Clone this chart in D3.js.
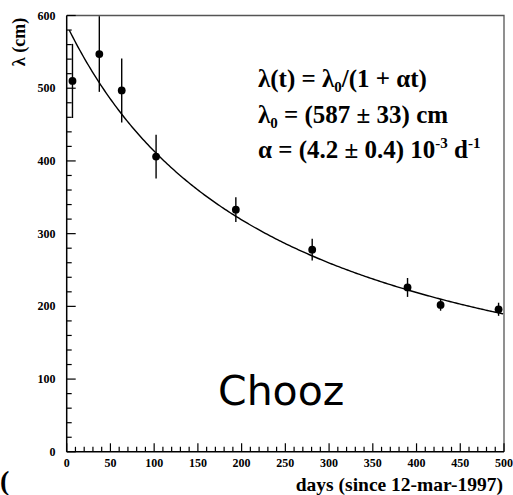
<!DOCTYPE html>
<meta charset="utf-8">
<style>
  body { margin: 0; background: #fff; }
  svg text { font-family: "Liberation Serif", "DejaVu Serif", serif; font-weight: bold; fill: #000; }
  .frame { fill: none; stroke: #555; stroke-width: 1.3px; }
  .axis-line { stroke: #000; stroke-width: 1.5px; }
  .tick { stroke: #000; stroke-width: 1.2px; }
  .err { stroke: #000; stroke-width: 1.4px; }
  .fit { fill: none; stroke: #000; stroke-width: 1.4px; }
</style>
<svg width="513" height="495"></svg>
<script src="https://d3js.org/d3.v7.min.js"></script>
<script>
  // measured points (days since 12-mar-1997, attenuation length in cm)
  var days = [6.6, 37.3, 62.9, 102.2, 193.4, 280.7, 389.7, 427.5, 493.8];
  var lambda = [510, 547, 497, 406, 333, 278, 226, 202, 196];
  var lambdaErr = [51, 52, 44, 30, 17, 15, 13, 8, 9];

  // fit parameters
  var lambda0 = 587, alpha = 4.2e-3;

  var xTicks = [0, 50, 100, 150, 200, 250, 300, 350, 400, 450, 500];
  var yTicks = [0, 100, 200, 300, 400, 500, 600];

  var svg = d3.select("svg");
  var pL = 66.7, pR = 504, pT = 15.5, pB = 451.8;

  var x = d3.scaleLinear().domain([0, 500]).range([pL, pR]);
  var y = d3.scaleLinear().domain([0, 600]).range([pB, pT]);

  svg.append("rect").attr("width", 513).attr("height", 495).attr("fill", "#fff");

  // frame (top and right)
  svg.append("path").attr("class", "frame")
    .attr("d", "M" + pL + "," + pT + "H" + pR + "V" + pB);

  // ticks
  var g = svg.append("g");
  d3.range(0, 501, 10).forEach(function(d) {
    var major = d % 50 === 0;
    g.append("line").attr("class", "tick")
      .attr("x1", x(d)).attr("x2", x(d))
      .attr("y1", pB).attr("y2", pB - (major ? 8.5 : 5));
  });
  d3.range(0, 601, 20).forEach(function(d) {
    var major = d % 100 === 0;
    g.append("line").attr("class", "tick")
      .attr("y1", y(d)).attr("y2", y(d))
      .attr("x1", pL).attr("x2", pL + (major ? 9 : 5));
  });

  g.append("line").attr("class", "axis-line")
    .attr("x1", pL).attr("x2", pL).attr("y1", pT).attr("y2", pB);
  g.append("line").attr("class", "axis-line")
    .attr("x1", pL).attr("x2", pR).attr("y1", pB).attr("y2", pB);

  g.selectAll(".xl").data(xTicks).enter().append("text")
    .attr("x", function(d) { return x(d); })
    .attr("y", 467)
    .attr("text-anchor", "middle")
    .style("font-size", "12px")
    .text(function(d) { return d; });

  g.selectAll(".yl").data(yTicks).enter().append("text")
    .attr("x", 55.5)
    .attr("y", function(d) { return y(d) + 4; })
    .attr("text-anchor", "end")
    .style("font-size", "12px")
    .text(function(d) { return d; });

  svg.append("text")
    .attr("transform", "translate(25,42) rotate(-90)")
    .attr("text-anchor", "middle")
    .style("font-size", "18px")
    .text("λ (cm)");

  svg.append("text")
    .attr("x", 503).attr("y", 491)
    .attr("text-anchor", "end")
    .style("font-size", "19.5px")
    .text("days (since 12-mar-1997)");

  // fit curve
  var line = d3.line()
    .x(function(t) { return x(t); })
    .y(function(t) { return y(lambda0 / (1 + alpha * t)); });
  svg.append("path").attr("class", "fit")
    .attr("d", line(d3.range(3, 501, 2)));

  // error bars and points
  var pts = svg.append("g");
  days.forEach(function(d, i) {
    pts.append("line").attr("class", "err")
      .attr("x1", x(d)).attr("x2", x(d))
      .attr("y1", y(Math.min(600, lambda[i] + lambdaErr[i])))
      .attr("y2", y(lambda[i] - lambdaErr[i]));
    pts.append("circle")
      .attr("cx", x(d)).attr("cy", y(lambda[i])).attr("r", 3.9)
      .attr("fill", "#000");
  });

  // formula text
  var fs = "25px", sub = "15px";
  var t1 = svg.append("text").attr("x", 258).attr("y", 87).style("font-size", fs);
  t1.append("tspan").text("λ(t) = λ");
  t1.append("tspan").attr("dy", 5).style("font-size", sub).text("0");
  t1.append("tspan").attr("dy", -5).text("/(1 + αt)");

  var t2 = svg.append("text").attr("x", 258).attr("y", 123).style("font-size", fs);
  t2.append("tspan").text("λ");
  t2.append("tspan").attr("dy", 5).style("font-size", sub).text("0");
  t2.append("tspan").attr("dy", -5).text(" = (587 ± 33) cm");

  var t3 = svg.append("text").attr("x", 258).attr("y", 158).style("font-size", fs);
  t3.append("tspan").text("α = (4.2 ± 0.4) 10");
  t3.append("tspan").attr("dy", -10).style("font-size", sub).text("-3");
  t3.append("tspan").attr("dy", 10).text(" d");
  t3.append("tspan").attr("dy", -10).style("font-size", sub).text("-1");

  svg.append("text")
    .attr("x", 218).attr("y", 405)
    .style("font-family", "'Comic Sans MS', 'DejaVu Sans', sans-serif")
    .style("font-weight", "normal")
    .style("font-size", "41px")
    .text("Chooz");

  svg.append("text")
    .attr("x", 0).attr("y", 490)
    .style("font-size", "28px")
    .text("(");
</script>
